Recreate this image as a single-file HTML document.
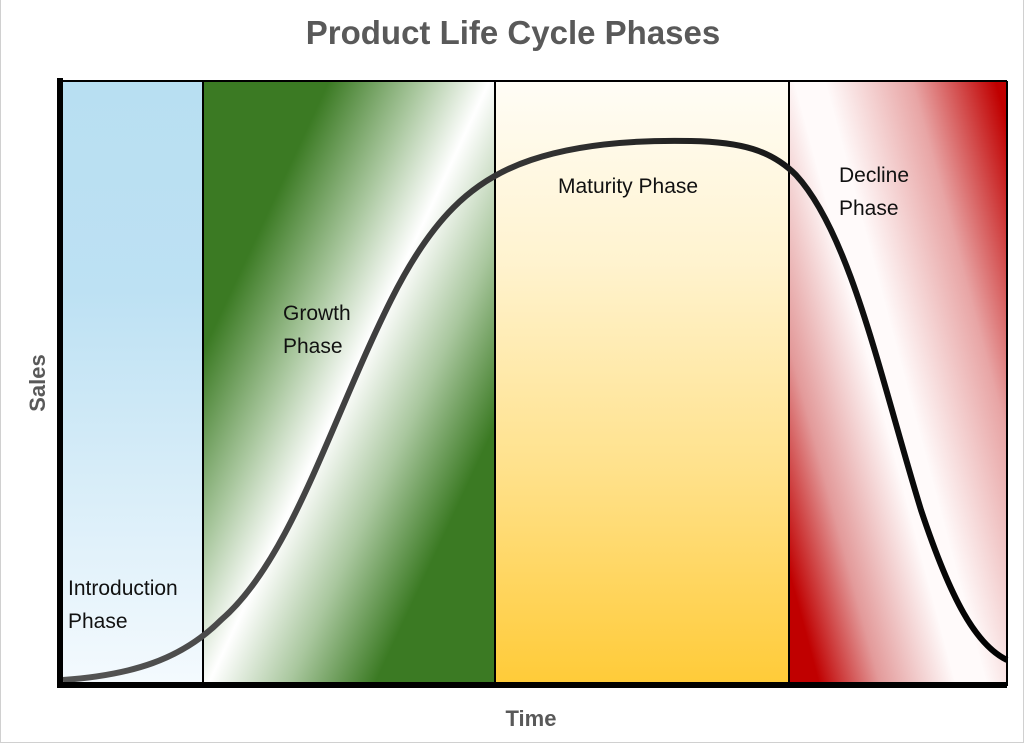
<!DOCTYPE html>
<html><head><style>
html,body{margin:0;padding:0;background:#fff}
#c{position:relative;width:1022px;height:742px;border:1px solid #d0d0d0;border-top:none;overflow:hidden;font-family:"Liberation Sans",sans-serif}
.p{position:absolute;top:81px;height:603px}
.t{position:absolute;font-size:21px;color:#111;line-height:33px}
</style></head><body><div id="c">
<div style="position:absolute;left:0;top:14px;width:1024px;text-align:center;font-size:33px;font-weight:bold;color:#595959">Product Life Cycle Phases</div>
<div class="p" style="left:61px;width:141px;background:linear-gradient(#b8dff2 0%,#bde1f3 35%,#f4fafe 100%)"></div>
<div class="p" style="left:202px;width:292px;background:linear-gradient(115deg,#3b7a23 0%,#3b7a23 22%,#a9c79e 38%,#ffffff 50%,#a9c79e 64%,#3b7a23 79%,#3b7a23 100%)"></div>
<div class="p" style="left:494px;width:294px;background:linear-gradient(#fffdf6 0%,#fff3cf 30%,#ffe18a 65%,#ffcb38 100%)"></div>
<div class="p" style="left:788px;width:218px;background:linear-gradient(75deg,#c00000 0%,#c00000 8%,#e39a9a 24%,#fffafa 44%,#fffafa 52%,#e8a5a5 75%,#c00000 97%,#c00000 100%)"></div>
<svg width="1024" height="744" style="position:absolute;left:0;top:0">
<defs><linearGradient id="g" x1="0" x2="1"><stop offset="0" stop-color="#555"/><stop offset="0.5" stop-color="#333"/><stop offset="1" stop-color="#000"/></linearGradient></defs>
<line x1="59" y1="81" x2="1006" y2="81" stroke="#000" stroke-width="2"/>
<line x1="1006" y1="81" x2="1006" y2="686" stroke="#000" stroke-width="2"/>
<line x1="202" y1="81" x2="202" y2="684" stroke="#000" stroke-width="2"/>
<line x1="494" y1="81" x2="494" y2="684" stroke="#000" stroke-width="2"/>
<line x1="788" y1="81" x2="788" y2="684" stroke="#000" stroke-width="2"/>
<path d="M62,680 C130,675 180,660 220,620 C290,560 330,420 390,300 C430,220 470,180 530,160 C580,143 640,140 690,141 C740,142 770,150 795,175 C850,235 880,380 920,510 C950,600 975,645 1006,660" fill="none" stroke="url(#g)" stroke-width="6"/>
<line x1="59" y1="78" x2="59" y2="688" stroke="#000" stroke-width="6"/>
<line x1="56" y1="685" x2="1006" y2="685" stroke="#000" stroke-width="6"/>
</svg>
<div class="t" style="left:67px;top:572px">Introduction<br>Phase</div>
<div class="t" style="left:282px;top:297px">Growth<br>Phase</div>
<div class="t" style="left:557px;top:170px">Maturity Phase</div>
<div class="t" style="left:838px;top:159px">Decline<br>Phase</div>
<div style="position:absolute;left:4px;top:370px;width:66px;text-align:center;transform:rotate(-90deg);font-size:22px;font-weight:bold;color:#595959">Sales</div>
<div style="position:absolute;left:0;top:706px;width:1060px;text-align:center;font-size:22px;font-weight:bold;color:#595959">Time</div>
</div></body></html>
